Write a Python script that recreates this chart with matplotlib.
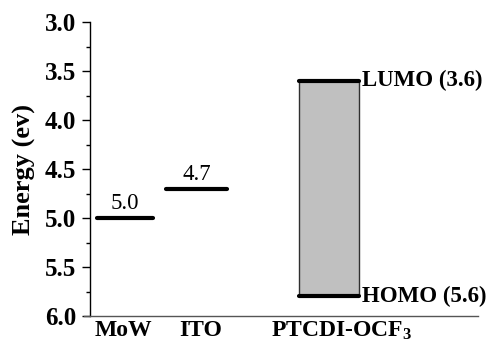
import matplotlib
matplotlib.use("Agg")
import matplotlib.pyplot as plt
from matplotlib.patches import Rectangle

# data
categories = ["MoW", "ITO", "PTCDI-OCF$_{3}$"]
mow_level = 5.0
ito_level = 4.7
lumo_level = 3.6
homo_level = 5.8          # drawn position in the reference
lumo_label = "LUMO (3.6)"
homo_label = "HOMO (5.6)"
mow_label = "5.0"
ito_label = "4.7"
yticks = [3.0, 3.5, 4.0, 4.5, 5.0, 5.5, 6.0]

plt.rcParams['font.family'] = ['Liberation Serif', 'DejaVu Serif']
plt.rcParams['mathtext.fontset'] = 'custom'
plt.rcParams['mathtext.rm'] = 'Liberation Serif:bold'
plt.rcParams['mathtext.it'] = 'Liberation Serif:bold'
plt.rcParams['mathtext.bf'] = 'Liberation Serif:bold'

fig = plt.figure(figsize=(4.96, 3.5), dpi=100)
ax = fig.add_axes([90/496, 34/350, 388/496, 294/350])

ax.set_xlim(0, 388)
ax.set_ylim(6.0, 3.0)

lw = 3
ax.plot([7, 63], [mow_level, mow_level], color='black', lw=lw, solid_capstyle='round')
ax.plot([76, 137], [ito_level, ito_level], color='black', lw=lw, solid_capstyle='round')
ax.add_patch(Rectangle((209, lumo_level), 60, homo_level - lumo_level,
                       facecolor='#c0c0c0', edgecolor='#303030', lw=1))
ax.plot([209, 269], [lumo_level, lumo_level], color='black', lw=lw, solid_capstyle='round')
ax.plot([209, 269], [homo_level, homo_level], color='black', lw=lw, solid_capstyle='round')

ax.text(35, mow_level - 0.04, mow_label, ha='center', va='bottom', fontsize=16.5)
ax.text(107, ito_level - 0.04, ito_label, ha='center', va='bottom', fontsize=16.5)
ax.text(272, lumo_level, lumo_label, ha='left', va='center', fontsize=16.5, fontweight='bold')
ax.text(272, homo_level, homo_label, ha='left', va='center', fontsize=16.5, fontweight='bold')

ax.set_yticks(yticks)
ax.set_yticklabels([f"{v:.1f}" for v in yticks], fontsize=18, fontweight='bold')
ax.set_yticks([3.25, 3.75, 4.25, 4.75, 5.25, 5.75], minor=True)
ax.tick_params(axis='y', which='major', direction='out', length=6, width=1, pad=4)
ax.tick_params(axis='y', which='minor', direction='out', length=3, width=1)

ax.set_xticks([33, 111, 252])
ax.set_xticklabels(categories, fontsize=17, fontweight='bold')
ax.tick_params(axis='x', length=0, pad=3)

ax.set_ylabel("Energy (ev)", fontsize=19, fontweight='bold', labelpad=6)

for s in ['top', 'right']:
    ax.spines[s].set_visible(False)
ax.spines['left'].set_linewidth(1)
ax.spines['bottom'].set_linewidth(1)
ax.spines['bottom'].set_color('#555555')
ax.spines['bottom'].set_bounds(-6, 388)

fig.savefig("out.png", dpi=100)
